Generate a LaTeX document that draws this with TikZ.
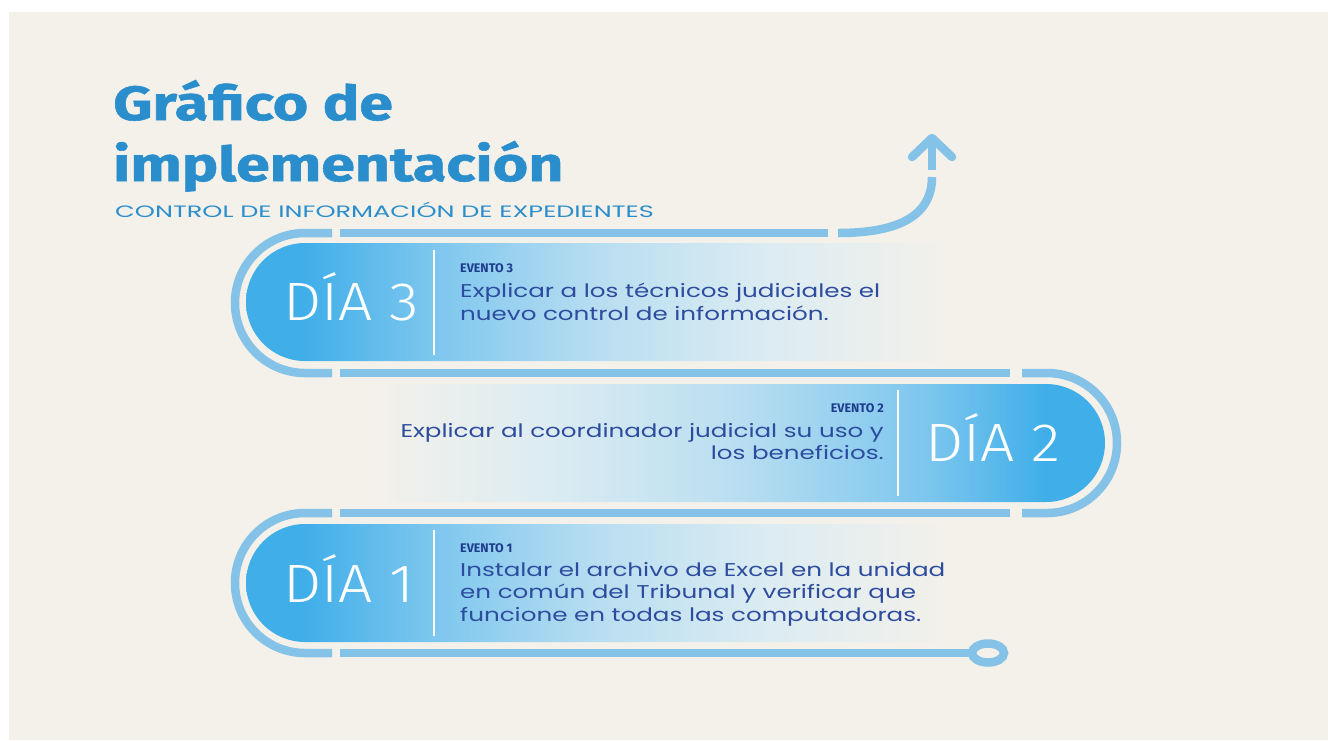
\documentclass[tikz,border=0pt]{standalone}
\usepackage{fontspec}
\setmainfont{Poppins}
\newfontfamily\bodyfont[FakeStretch=1.33]{Poppins}
\newfontfamily\subfont[FakeStretch=1.55]{Poppins}
\newfontfamily\titlefont[FakeStretch=1.27, BoldFeatures={FakeBold=1.2}]{Fira Sans}
\newfontfamily\diafont[FakeStretch=1.12, UprightFont={* Light}]{Fira Sans}
\newfontfamily\eventfont[FakeStretch=1.0]{Fira Sans}
\usepackage{tikz}
\usetikzlibrary{arrows.meta}

\definecolor{bgc}{HTML}{F4F1EA}
\definecolor{trackc}{HTML}{84C2E7}
\definecolor{pillA}{HTML}{3FAEE9}
\definecolor{pillB}{HTML}{7CC6EE}
\definecolor{pillC}{HTML}{B9DEF1}
\definecolor{pillD}{HTML}{DCECF2}
\definecolor{titlec}{HTML}{2A8ECD}
\definecolor{textc}{HTML}{2D4C9E}
\definecolor{eventc}{HTML}{1E3C8E}

\pgfdeclarehorizontalshading{fadeR}{100bp}{color(0bp)=(pillA); color(29bp)=(pillA);
  color(38bp)=(pillB); color(50bp)=(pillC); color(62bp)=(pillD); color(75bp)=(bgc); color(100bp)=(bgc)}
\pgfdeclarehorizontalshading{fadeL}{100bp}{color(0bp)=(bgc); color(25bp)=(bgc);
  color(37bp)=(pillD); color(50bp)=(pillC); color(63bp)=(pillB); color(71bp)=(pillA); color(100bp)=(pillA)}

\begin{document}
\begin{tikzpicture}[x=1pt,y=-1pt,>=Latex,
  track/.style={draw=trackc, line width=8.5pt},
  title/.style={anchor=base west, inner sep=0pt, text=titlec, font=\titlefont\bfseries\fontsize{48}{48}\selectfont},
  dia/.style={anchor=base west, inner sep=0pt, text=white, font=\diafont\fontsize{54}{54}\selectfont},
  evento/.style={anchor=base west, inner sep=0pt, text=eventc, font=\eventfont\bfseries\fontsize{12.5}{13}\selectfont},
  body/.style={anchor=north west, inner sep=0pt, align=left, text=textc, font=\bodyfont\fontsize{18.5}{22.5}\selectfont}]
\useasboundingbox (0,0) rectangle (1328,740);
\fill[white] (0,0) rectangle (1328,740);
\fill[bgc] (9,12) rectangle (1328,740);

\node[title] (title1) at (113,120) {Gráfico de};
\node[title] (title2) at (113,181) {implementación};
\node[anchor=base west, inner sep=0pt, text=titlec, font=\subfont\fontsize{16.5}{17}\selectfont] (subtitle) at (115,217) {CONTROL DE INFORMACIÓN DE EXPEDIENTES};

\shade[shading=fadeR] (955,243) -- (305,243) arc(270:90:59) -- (955,361) -- cycle;
\shade[shading=fadeL] (370,384) -- (1046,384) arc(-90:90:59) -- (370,502) -- cycle;
\shade[shading=fadeR] (955,524) -- (305,524) arc(270:90:59) -- (955,642) -- cycle;

\draw[track] (828,233) -- (340,233);
\draw[track] (332,233) -- (305,233) arc(270:90:70) -- (332,373);
\draw[track] (340,373) -- (1010,373);
\draw[track] (1022,373) -- (1047,373) arc(-90:90:70) -- (1022,513);
\draw[track] (1010,513) -- (340,513);
\draw[track] (332,513) -- (305,513) arc(270:90:70) -- (332,653);
\draw[track] (340,653) -- (972,653);
\draw[track] (988,653) ellipse (16 and 9.5);

\coordinate (tail) at (838,233);
\coordinate (bend) at (932,177);
\coordinate (stem) at (932,170);
\coordinate (tip) at (932,138);
\draw[track] (tail) .. controls (900,233) and (932,215) .. (bend);
\draw[track] (stem) -- (tip);
\draw[track, line cap=round, line join=round] (912,157) -- (tip) -- (952,157);

\draw[white, line width=2pt] (434,250) -- (434,355);
\draw[white, line width=2pt] (898,390) -- (898,496);
\draw[white, line width=2pt] (434,530) -- (434,636);

\node[dia] (dia3) at (283,320) {DÍA 3};
\node[dia] (dia2) at (925,461) {DÍA 2};
\node[dia] (dia1) at (283,602) {DÍA 1};

\node[evento] (ev3) at (460,272) {EVENTO 3};
\node[body] (txt3) at (460,283) {Explicar a los técnicos judiciales el\\nuevo control de información.};
\node[evento, anchor=base east] (ev2) at (884,412) {EVENTO 2};
\node[body, anchor=north east, align=right] (txt2) at (884,423) {Explicar al coordinador judicial su uso y\\los beneficios.};
\node[evento] (ev1) at (460,552) {EVENTO 1};
\node[body] (txt1) at (460,562) {Instalar el archivo de Excel en la unidad\\en común del Tribunal y verificar que\\funcione en todas las computadoras.};
\end{tikzpicture}
\end{document}
